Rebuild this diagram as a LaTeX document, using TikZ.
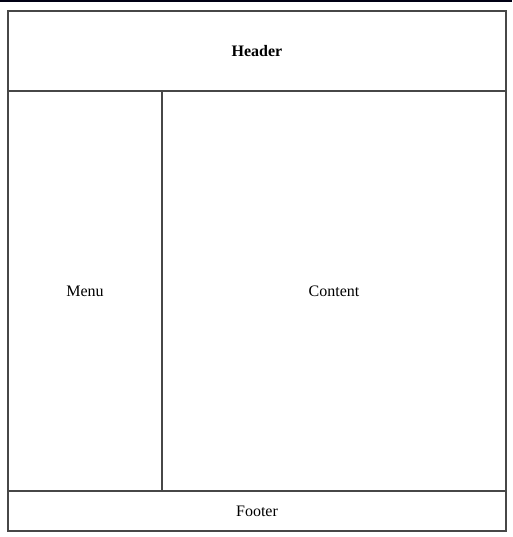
\documentclass[tikz,border=0pt]{standalone}
\usepackage{fontspec}
\setmainfont{Liberation Serif}
\begin{document}
\begin{tikzpicture}[x=0.75pt,y=-0.75pt,
  frame/.style={draw=black!72, line width=1.1pt},
  lbl/.style={font=\fontsize{12}{14}\selectfont, text=black}]
\useasboundingbox (0,0) rectangle (512,537);
\fill[fill=black!92!blue] (0,0) rectangle (512,2);
\coordinate (tl) at (8,11);
\coordinate (br) at (506,531);
\draw[frame] (tl) rectangle (br);
\draw[frame] (8,91) -- (506,91);
\draw[frame] (8,491) -- (506,491);
\draw[frame] (162,91) -- (162,491);
\node[lbl, font=\fontsize{12}{14}\selectfont\bfseries] (header) at (257,51) {Header};
\node[lbl] (menu) at (85,291) {Menu};
\node[lbl] (content) at (334,291) {Content};
\node[lbl] (footer) at (257,511) {Footer};
\end{tikzpicture}
\end{document}
